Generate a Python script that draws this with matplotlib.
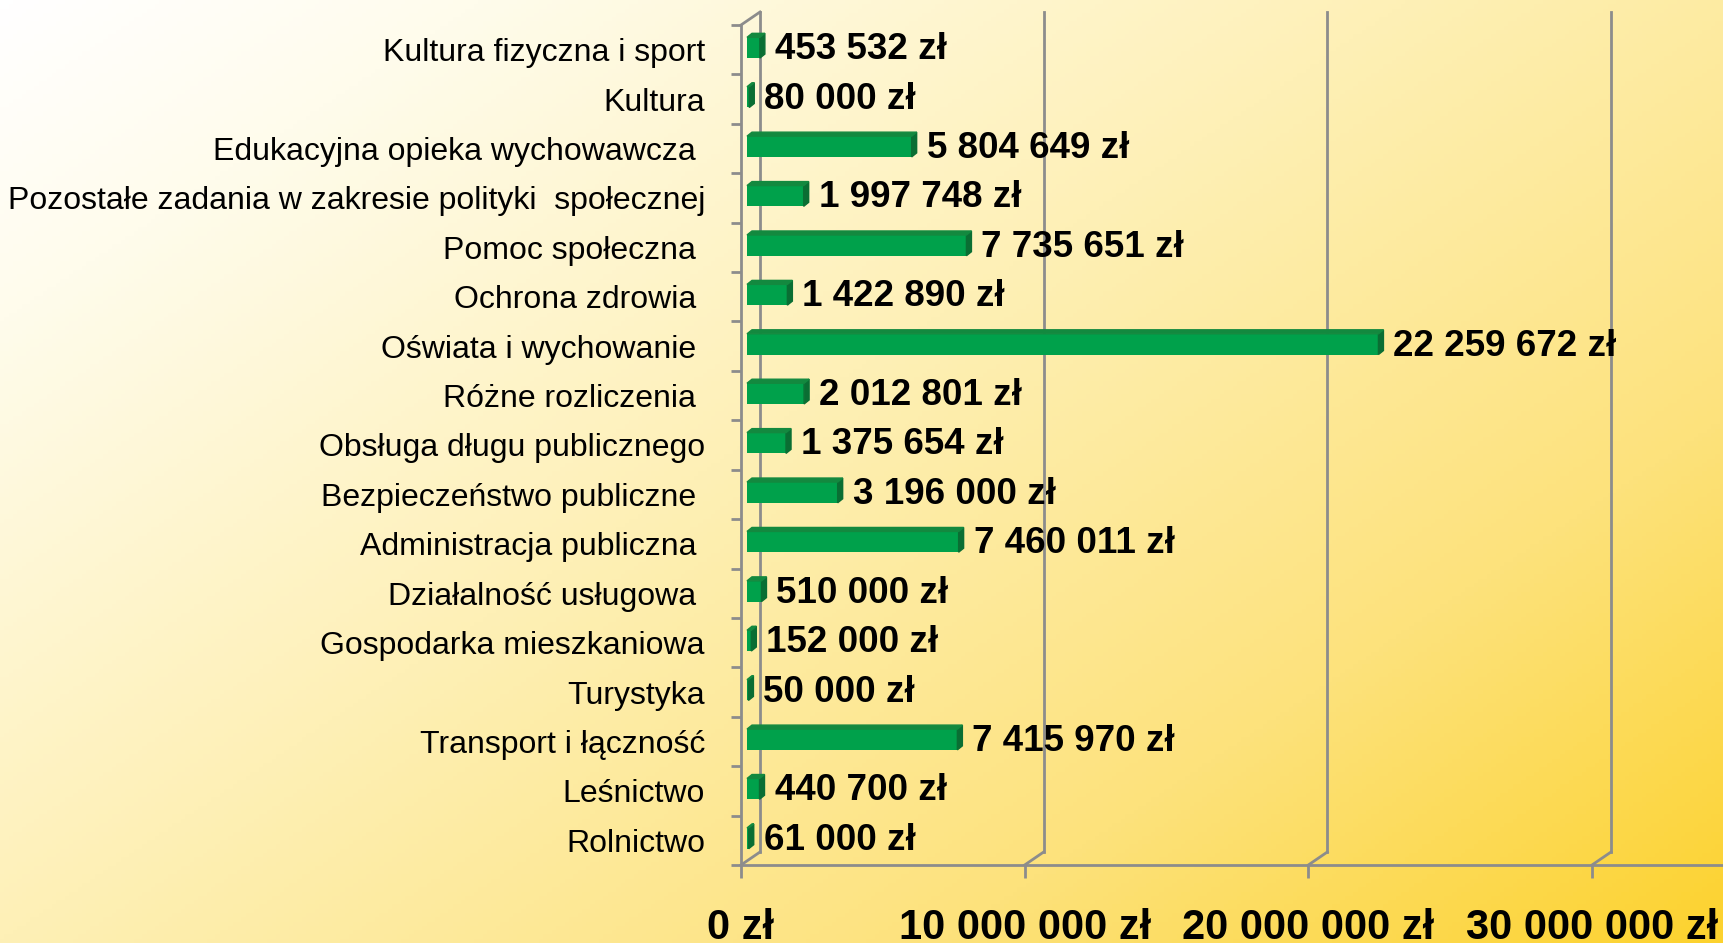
import numpy as np
import matplotlib
matplotlib.use("Agg")
import matplotlib.pyplot as plt
from matplotlib.colors import LinearSegmentedColormap
from matplotlib.patches import Polygon

plt.rcParams['font.family'] = ['Liberation Sans', 'DejaVu Sans']

# dane (od dołu wykresu do góry)
kategorie = [
    "Rolnictwo",
    "Leśnictwo",
    "Transport i łączność",
    "Turystyka",
    "Gospodarka mieszkaniowa",
    "Działalność usługowa ",
    "Administracja publiczna ",
    "Bezpieczeństwo publiczne ",
    "Obsługa długu publicznego",
    "Różne rozliczenia ",
    "Oświata i wychowanie ",
    "Ochrona zdrowia ",
    "Pomoc społeczna ",
    "Pozostałe zadania w zakresie polityki  społecznej",
    "Edukacyjna opieka wychowawcza ",
    "Kultura",
    "Kultura fizyczna i sport",
]
wydatki = [61000, 440700, 7415970, 50000, 152000, 510000, 7460011, 3196000,
           1375654, 2012801, 22259672, 1422890, 7735651, 1997748, 5804649,
           80000, 453532]
ticki = [0, 10000000, 20000000, 30000000]


def zl(v):
    return "{:,}".format(v).replace(",", " ") + " zł"


W, H = 1724, 943
fig = plt.figure(figsize=(W / 100, H / 100), dpi=100)

# tło - gradient
bg = fig.add_axes([0, 0, 1, 1], zorder=-1)
xx, yy = np.meshgrid(np.linspace(0, 1, 400), np.linspace(0, 1, 220))
t = np.clip(0.55 * xx + 0.45 * yy, 0, 1)
cmap = LinearSegmentedColormap.from_list("tlo", [
    (0.0, "#ffffff"), (0.15, "#fffcec"), (0.45, "#fef0b6"),
    (0.75, "#fde27c"), (1.0, "#fcd22e")])
bg.imshow(t, cmap=cmap, aspect="auto", extent=[0, 1, 0, 1], origin="upper",
          vmin=0, vmax=1)
bg.axis("off")

# wykres
x0_px, y0_px, y1_px = 741, 865, 25
ax_w_px = W - x0_px
ax_h_px = y0_px - y1_px
ax = fig.add_axes([x0_px / W, (H - y0_px) / H, ax_w_px / W, ax_h_px / H])
ax.patch.set_alpha(0)

xmax = ticki[-1] * ax_w_px / (1592 - x0_px)
n = len(kategorie)
ax.set_xlim(0, xmax)
ax.set_ylim(-0.5, n - 0.5)
xpp = xmax / ax_w_px          # jednostki danych na piksel
ypp = n / ax_h_px

grid_c = "#8c8c8c"
# tylna ściana + "stopki" 3D
gdx, gdy = 19 * xpp, 13 * ypp
for tx in ticki:
    ax.plot([tx + gdx, tx + gdx], [-0.5 + gdy, n - 0.5 + gdy], color=grid_c,
            lw=2, clip_on=False, zorder=1)
    ax.plot([tx, tx + gdx], [-0.5, -0.5 + gdy], color=grid_c, lw=2,
            clip_on=False, zorder=1)
ax.plot([0, gdx], [n - 0.5, n - 0.5 + gdy], color=grid_c, lw=2,
        clip_on=False, zorder=1)

# słupki 3D
h = 0.42
bx, by = 6 * xpp, 2 * ypp
sdx, sdy = 5 * xpp, 4 * ypp
ys = np.arange(n)
ax.barh(ys + by, wydatki, left=bx, height=h, color="#00a14b", zorder=3)
for y, v in zip(ys, wydatki):
    ya, yb = y + by - h / 2, y + by + h / 2
    xe = v + bx
    ax.add_patch(Polygon([(xe, ya), (xe + sdx, ya + sdy), (xe + sdx, yb + sdy),
                          (xe, yb)], closed=True, color="#0a6e33", zorder=3))
    ax.add_patch(Polygon([(bx, yb), (bx + sdx, yb + sdy), (xe + sdx, yb + sdy),
                          (xe, yb)], closed=True, color="#13893f", zorder=3))
    ax.annotate(zl(v), (v, y), xytext=(21, 0), textcoords="offset pixels",
                ha="left", va="center", fontsize=26.5, fontweight="bold",
                color="black", zorder=4)

# osie
for s in ["top", "right"]:
    ax.spines[s].set_visible(False)
for s in ["left", "bottom"]:
    ax.spines[s].set_color(grid_c)
    ax.spines[s].set_linewidth(2)

ax.set_yticks(ys)
ax.set_yticklabels(kategorie, fontsize=23)
ax.set_yticks(np.arange(-0.5, n, 1), minor=True)
ax.tick_params(axis="y", which="major", length=0, pad=26)
ax.tick_params(axis="y", which="minor", length=7, width=2, color=grid_c)

ax.set_xticks(ticki)
ax.set_xticklabels([zl(v) for v in ticki], fontsize=30, fontweight="bold")
ax.tick_params(axis="x", length=9, width=2, color=grid_c, pad=22)

fig.savefig("out.png", dpi=100)
